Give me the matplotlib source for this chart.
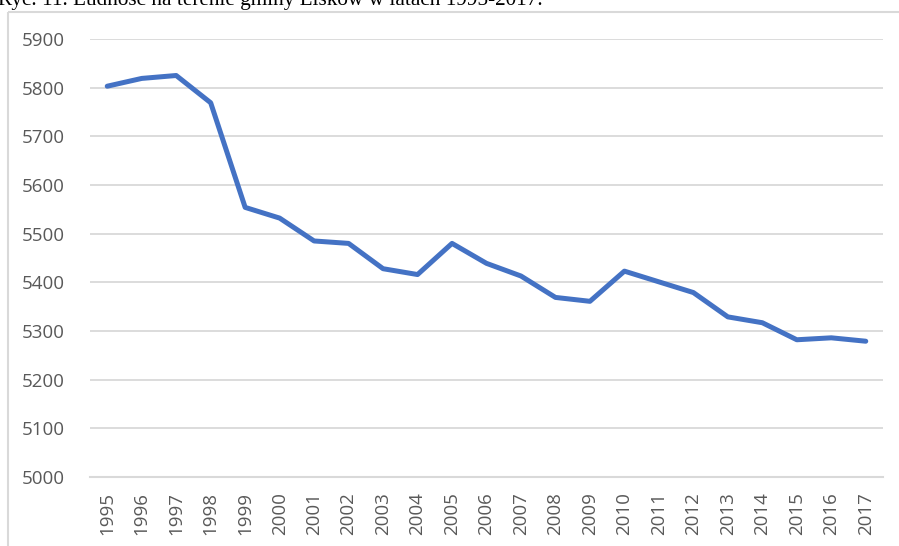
import matplotlib
matplotlib.use("Agg")
import matplotlib.pyplot as plt
from matplotlib.patches import Rectangle

W, H, DPI = 899, 546, 100

years = [str(y) for y in range(1995, 2018)]
population = [5803, 5819, 5825, 5769, 5554, 5532, 5485, 5480, 5428, 5416,
              5480, 5439, 5413, 5369, 5361, 5423, 5401, 5379, 5329, 5317,
              5282, 5286, 5279]
y_ticks = list(range(5000, 5901, 100))
caption = "Ryc. 11. Ludność na terenie gminy Lisków w latach 1995-2017."

LINE_BLUE = "#4472C4"
GRID_GREY = "#d9d9d9"
TEXT_GREY = "#595959"


def px(x, y):
    # pixel coords (from top-left) -> figure fraction
    return x / W, 1 - y / H


fig = plt.figure(figsize=(W / DPI, H / DPI), dpi=DPI)

# chart frame, only its top and left edges fall inside the image
fig.patches.append(Rectangle(px(8, 12), 2, -2, transform=fig.transFigure,
                             fill=False, edgecolor=GRID_GREY, linewidth=1.5))

# caption, cut off at the top edge like in the source scan
fig.text(-0.002, 1 - 5.5 / H, caption, family="Liberation Serif", fontsize=15.3,
         va="baseline", ha="left", color="black")

left, top = px(90, 39)
right, bottom = px(883, 477)
ax = fig.add_axes([left, bottom, right - left, top - bottom])

ax.plot(range(len(years)), population, color=LINE_BLUE, linewidth=3.6,
        solid_capstyle="round", solid_joinstyle="round", zorder=3)

ax.set_xlim(-0.5, len(years) - 0.5)
ax.set_ylim(5000, 5900)
ax.set_yticks(y_ticks)
ax.set_yticklabels([str(v) for v in y_ticks])
ax.set_xticks(range(len(years)))
ax.set_xticklabels(years, rotation=90)

ax.grid(axis="y", color=GRID_GREY, linewidth=1.3)
ax.set_axisbelow(True)
for side in ("top", "right", "left"):
    ax.spines[side].set_visible(False)
ax.spines["bottom"].set_color(GRID_GREY)
ax.spines["bottom"].set_linewidth(1.5)

ax.tick_params(axis="both", length=0, colors=TEXT_GREY, labelsize=13.5)
ax.tick_params(axis="y", pad=18)
ax.tick_params(axis="x", pad=11)
for lbl in ax.get_xticklabels() + ax.get_yticklabels():
    lbl.set_family("Open Sans")

fig.savefig("out.png", dpi=DPI)
